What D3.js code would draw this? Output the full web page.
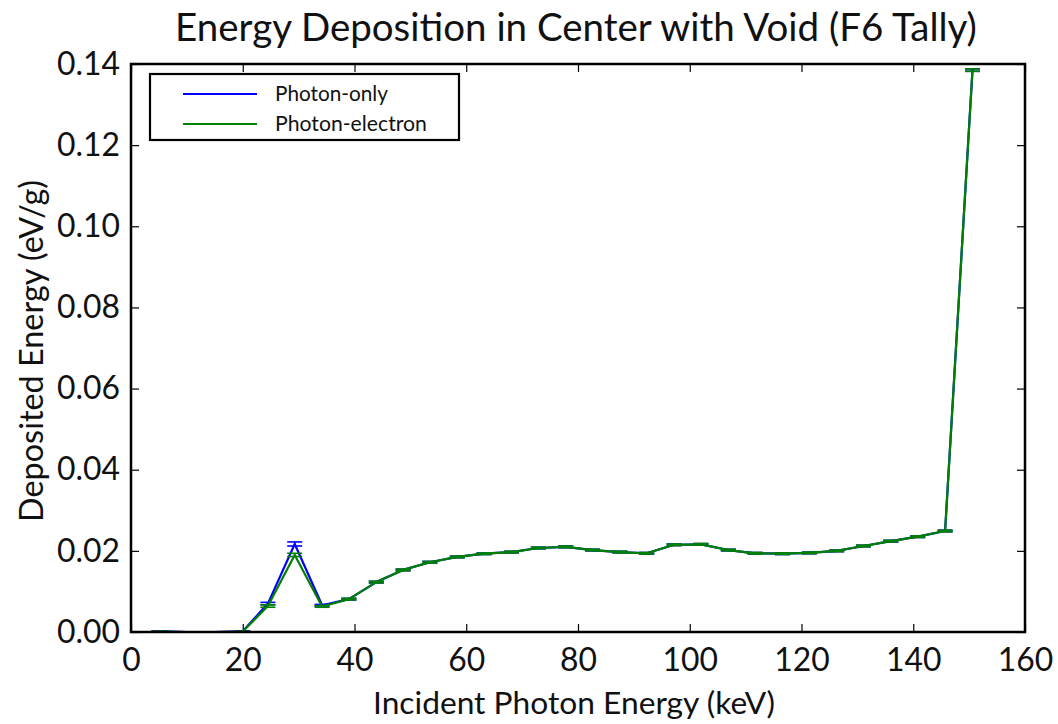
<!DOCTYPE html>
<html><head><meta charset="utf-8">
<script src="https://cdn.jsdelivr.net/npm/d3@7"></script>
<style>body{margin:0;background:#fff}svg{display:block}</style>
</head><body>
<script>
const energies = [5, 10, 15, 20, 24.5, 29.3, 34.2, 39, 43.9, 48.7, 53.5, 58.4, 63.2, 68.1, 72.9, 77.8, 82.6, 87.5, 92.3, 97.2, 102, 106.9, 111.7, 116.6, 121.4, 126.3, 131.1, 136, 140.8, 145.7, 150.6];
const photonOnly = [0.0002, 0, 0, 0.0002, 0.0070, 0.0217, 0.0066, 0.0081, 0.0123, 0.0153, 0.0172, 0.0185, 0.0193, 0.0197, 0.0207, 0.0210, 0.0202, 0.0197, 0.0194, 0.0215, 0.0216, 0.0202, 0.0194, 0.0193, 0.0195, 0.0200, 0.0212, 0.0224, 0.0235, 0.0249, 0.1385];
const photonOnlyErr = [0.0001, 0, 0, 0.0001, 0.0003, 0.0005, 0.0002, 0.0002, 0.0002, 0.0002, 0.0002, 0.0002, 0.0002, 0.0002, 0.0002, 0.0002, 0.0002, 0.0002, 0.0002, 0.0002, 0.0002, 0.0002, 0.0002, 0.0002, 0.0002, 0.0002, 0.0002, 0.0002, 0.0002, 0.0002, 0.0003];
const photonElectron = [0.0001, 0, 0, 0.0001, 0.0064, 0.0190, 0.0063, 0.0081, 0.0123, 0.0153, 0.0172, 0.0185, 0.0193, 0.0197, 0.0207, 0.0210, 0.0202, 0.0197, 0.0194, 0.0215, 0.0216, 0.0202, 0.0194, 0.0193, 0.0195, 0.0200, 0.0212, 0.0224, 0.0235, 0.0249, 0.1385];
const photonElectronErr = [0.0001, 0, 0, 0.0001, 0.0003, 0.0004, 0.0002, 0.0002, 0.0002, 0.0002, 0.0002, 0.0002, 0.0002, 0.0002, 0.0002, 0.0002, 0.0002, 0.0002, 0.0002, 0.0002, 0.0002, 0.0002, 0.0002, 0.0002, 0.0002, 0.0002, 0.0002, 0.0002, 0.0002, 0.0002, 0.0003];
const xTicks = [0, 20, 40, 60, 80, 100, 120, 140, 160];
const yTicks = [0, 0.02, 0.04, 0.06, 0.08, 0.10, 0.12, 0.14];
const seriesNames = ["Photon-only", "Photon-electron"];
const titleText = "Energy Deposition in Center with Void (F6 Tally)";
const xLabel = "Incident Photon Energy (keV)";
const yLabel = "Deposited Energy (eV/g)";

const W = 1058, H = 724;
const m = {left: 131, right: 1025, top: 64, bottom: 632};
const font = "Lato, 'Open Sans', sans-serif";
const svg = d3.select("body").append("svg").attr("width", W).attr("height", H);

const x = d3.scaleLinear().domain([0, 160]).range([m.left, m.right]);
const y = d3.scaleLinear().domain([0, 0.14]).range([m.bottom, m.top]);

// measure a font size so that "0.14" is ~63px wide
const probe = svg.append("text").attr("font-family",font).attr("font-size",24).text("0.14");
const tickFs = 24*63/probe.node().getComputedTextLength();
probe.remove();

const tl = 8;
const axB = d3.axisBottom(x).tickValues(xTicks).tickSizeInner(-tl).tickSizeOuter(0).tickFormat(d => d3.format("d")(d)).tickPadding(16);
const axT = d3.axisTop(x).tickValues(xTicks).tickSizeInner(-tl).tickSizeOuter(0).tickFormat("");
const axL = d3.axisLeft(y).tickValues(yTicks).tickSizeInner(-tl).tickSizeOuter(0).tickFormat(d3.format(".2f")).tickPadding(11);
const axR = d3.axisRight(y).tickValues(yTicks).tickSizeInner(-tl).tickSizeOuter(0).tickFormat("");
function styleAxis(g){ g.select(".domain").remove(); g.selectAll(".tick line").attr("stroke","#000").attr("stroke-width",1.2); g.selectAll("text").attr("font-family",font).attr("font-size",tickFs).attr("fill","#111"); }
svg.append("g").attr("transform",`translate(0,${m.bottom})`).call(axB).call(styleAxis);
svg.append("g").attr("transform",`translate(0,${m.top})`).call(axT).call(styleAxis);
svg.append("g").attr("transform",`translate(${m.left},0)`).call(axL).call(styleAxis);
svg.append("g").attr("transform",`translate(${m.right},0)`).call(axR).call(styleAxis);

const colors = ["#0000ff", "#008000"];
const seriesVals = [photonOnly, photonElectron];
const seriesErr = [photonOnlyErr, photonElectronErr];
const line = d3.line().x(d => x(d[0])).y(d => y(d[1]));
const plot = svg.append("g");
seriesVals.forEach((vals, si) => {
  const pts = energies.map((e, i) => [e, vals[i], seriesErr[si][i]]);
  plot.append("path").datum(pts).attr("d", line).attr("fill","none").attr("stroke",colors[si]).attr("stroke-width",2.2).attr("stroke-linejoin","round");
  const eb = plot.append("g").attr("stroke",colors[si]).attr("stroke-width",1.6);
  pts.forEach(p => {
    eb.append("line").attr("x1",x(p[0])).attr("x2",x(p[0])).attr("y1",y(p[1]-p[2])).attr("y2",y(p[1]+p[2]));
    [p[1]-p[2], p[1]+p[2]].forEach(v => eb.append("line").attr("x1",x(p[0])-7.5).attr("x2",x(p[0])+7.5).attr("y1",y(v)).attr("y2",y(v)));
  });
});

svg.append("rect").attr("x",m.left).attr("y",m.top).attr("width",m.right-m.left).attr("height",m.bottom-m.top).attr("fill","none").attr("stroke","#000").attr("stroke-width",2.5);

function fitText(sel, target){ const l = sel.node().getComputedTextLength(); const fs = +sel.attr("font-size"); sel.attr("font-size", fs*target/l); }

const lg = svg.append("g");
lg.append("rect").attr("x",150).attr("y",74).attr("width",309).attr("height",66).attr("fill","#fff").attr("stroke","#000").attr("stroke-width",2.2);
const legW = [113, 152];
seriesNames.forEach((n, i) => {
  const yy = 94 + i*30;
  lg.append("line").attr("x1",183).attr("x2",257).attr("y1",yy).attr("y2",yy).attr("stroke",colors[i]).attr("stroke-width",2.2);
  const tx = lg.append("text").attr("x",275).attr("y",yy).attr("dy","0.35em").attr("font-family",font).attr("font-size",16).attr("fill","#111").text(n);
  fitText(tx, legW[i]);
});

const t = svg.append("text").attr("x",576).attr("y",41).attr("text-anchor","middle").attr("font-family",font).attr("font-size",28).attr("fill","#111").text(titleText);
fitText(t, 802);
const xl = svg.append("text").attr("x",574).attr("y",714).attr("text-anchor","middle").attr("font-family",font).attr("font-size",24).attr("fill","#111").text(xLabel);
fitText(xl, 402);
const yl = svg.append("text").attr("transform","translate(43,351) rotate(-90)").attr("text-anchor","middle").attr("font-family",font).attr("font-size",24).attr("fill","#111").text(yLabel);
fitText(yl, 342);
</script>
</body></html>
